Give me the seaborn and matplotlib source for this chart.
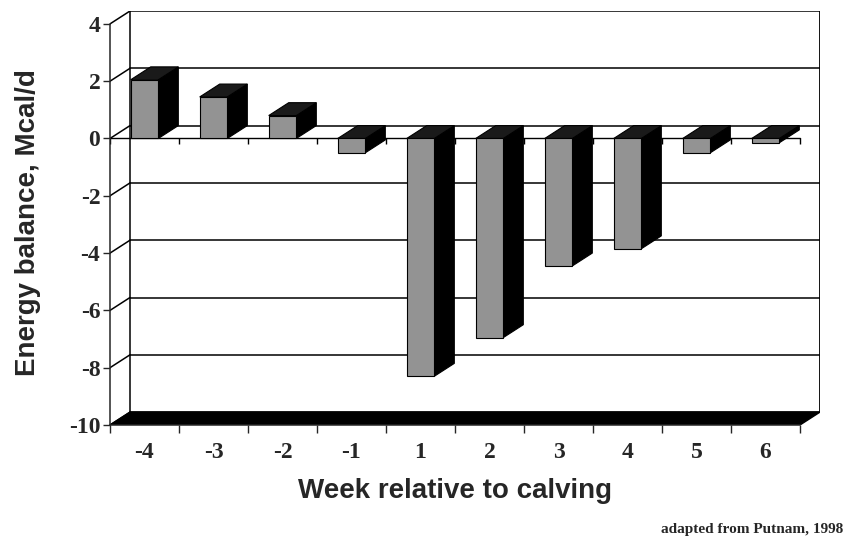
import seaborn as sns
from matplotlib import pyplot as plt
from matplotlib.patches import Polygon
import numpy as np
import pandas as pd

sns.set_style("white")
plt.rcParams['axes.unicode_minus'] = False

# Values
weeks = ["-4", "-3", "-2", "-1", "1", "2", "3", "4", "5", "6"]
balance = [2.05, 1.45, 0.8, -0.5, -8.3, -6.95, -4.45, -3.85, -0.5, -0.15]
y_ticks = [-10, -8, -6, -4, -2, 0, 2, 4]

df = pd.DataFrame({'week': weeks, 'balance': balance})

# depth offset of the pseudo 3D box, in data units
DX, DY = 0.29, 0.45
y_min, y_max = y_ticks[0], y_ticks[-1]

fig = plt.figure(figsize=(8.45, 5.42), dpi=100)
ax = fig.add_axes([110 / 845, 1 - 425 / 542, 710 / 845, 414 / 542])

sns.barplot(data=df, x='week', y='balance', order=weeks, color='#939393',
            width=0.4, edgecolor='black', linewidth=0.8, saturation=1, ax=ax, zorder=5)

n = len(weeks)
x_lo, x_hi = -0.5, n - 0.5

# back wall gridlines and left wall diagonals
for t in y_ticks:
    ax.plot([x_lo + DX, x_hi + DX], [t + DY, t + DY], color='black', lw=1.1, zorder=1)
    ax.plot([x_lo, x_lo + DX], [t, t + DY], color='black', lw=1.1, zorder=1)
ax.plot([x_lo + DX, x_lo + DX], [y_min + DY, y_max + DY], color='black', lw=1.1, zorder=1)
ax.plot([x_hi + DX, x_hi + DX], [y_min + DY, y_max + DY], color='black', lw=1.3, zorder=1)

# black floor
ax.add_patch(Polygon([(x_lo, y_min), (x_hi, y_min), (x_hi + DX, y_min + DY), (x_lo + DX, y_min + DY)],
                     closed=True, facecolor='black', edgecolor='black', zorder=2))

# front zero line with category separators
ax.plot([x_lo, x_hi], [0, 0], color='black', lw=1.0, zorder=2)
bounds = np.arange(x_lo, x_hi + 0.01, 1.0)
ax.vlines(bounds, -0.18, 0, color='black', lw=1.0, zorder=2)

# side and top faces of the bars
for p in ax.patches[:]:
    if not hasattr(p, 'get_width'):
        continue
    x0 = p.get_x()
    x1 = x0 + p.get_width()
    top = max(p.get_y(), p.get_y() + p.get_height())
    bot = min(p.get_y(), p.get_y() + p.get_height())
    side = Polygon([(x1, bot), (x1, top), (x1 + DX, top + DY), (x1 + DX, bot + DY)],
                   closed=True, facecolor='black', edgecolor='black', lw=0.8, zorder=4)
    cap = Polygon([(x0, top), (x1, top), (x1 + DX, top + DY), (x0 + DX, top + DY)],
                  closed=True, facecolor='#1a1a1a', edgecolor='black', lw=0.8, zorder=4)
    ax.add_patch(side)
    ax.add_patch(cap)

ax.set_xlim(x_lo, x_hi + DX)
ax.set_ylim(y_min, y_max + DY)

for s in ['top', 'right']:
    ax.spines[s].set_visible(False)
ax.spines['left'].set_position(('data', x_lo))
ax.spines['left'].set_bounds(y_min, y_max)
ax.spines['bottom'].set_bounds(x_lo, x_hi)
ax.spines['left'].set_linewidth(1.1)
ax.spines['bottom'].set_linewidth(1.1)

ax.set_yticks(y_ticks)
ax.set_yticklabels([str(t) for t in y_ticks])
ax.set_xticks(bounds)
ax.set_xticklabels([])
ax.set_xticks(range(n), minor=True)
ax.set_xticklabels(weeks, minor=True)
ax.tick_params(axis='y', direction='out', length=5, width=1, pad=2, left=True)
ax.tick_params(axis='x', which='major', direction='out', length=6, width=1, bottom=True)
ax.tick_params(axis='x', which='minor', length=0, pad=12)

for lab in ax.get_yticklabels() + ax.get_xticklabels(minor=True):
    lab.set_fontfamily('Liberation Serif')
    lab.set_fontweight('bold')
    lab.set_fontsize(17)

ax.set_xlabel('Week relative to calving', family='Liberation Sans', weight='bold', fontsize=20)
ax.set_ylabel('Energy balance, Mcal/d', family='Liberation Sans', weight='bold', fontsize=20)
ax.xaxis.set_label_coords(0.486, -0.128)
ax.yaxis.set_label_coords(-0.097, 0.49)

fig.text(843 / 845, 1 - 530 / 542, 'adapted from Putnam, 1998', ha='right', va='center',
         family='Liberation Serif', weight='bold', fontsize=11)

fig.savefig('out.png', dpi=100)
